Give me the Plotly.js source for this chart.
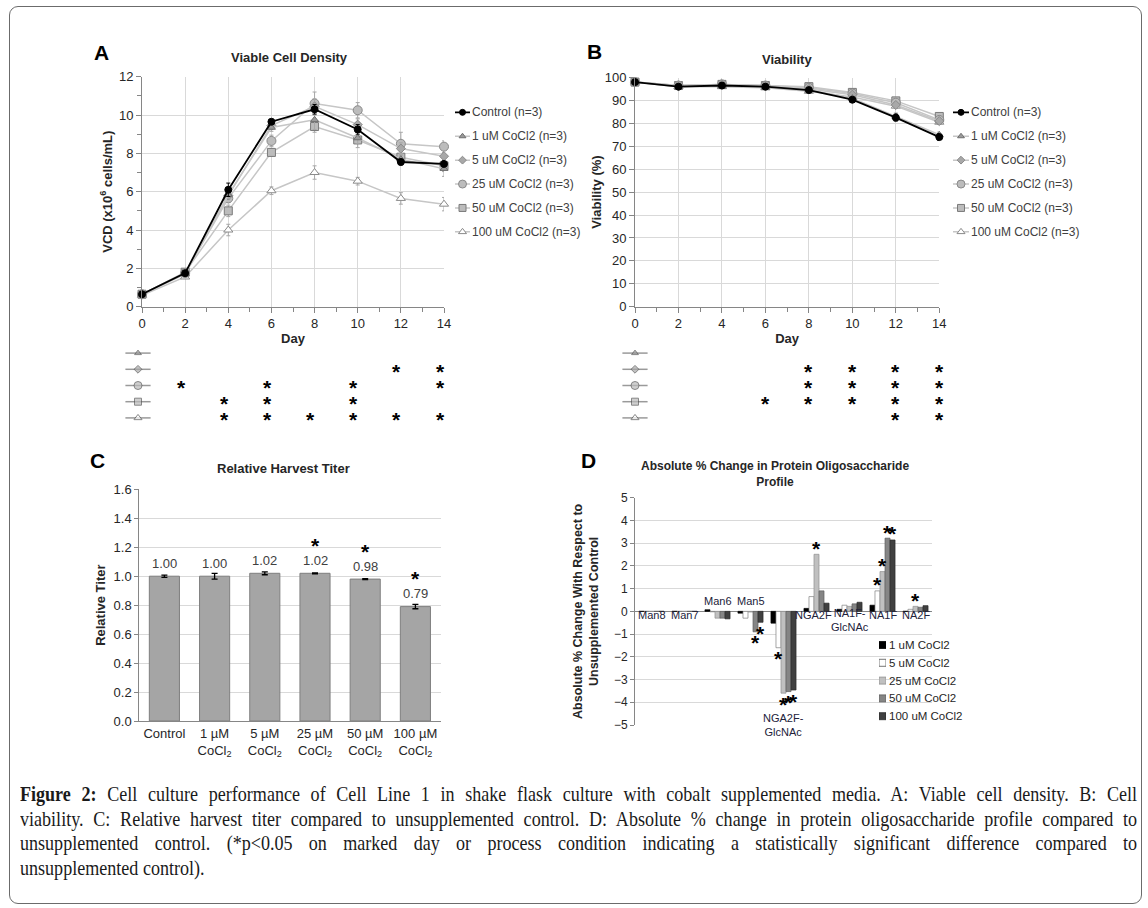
<!DOCTYPE html>
<html><head><meta charset="utf-8">
<script src="https://cdn.plot.ly/plotly-3.0.1.min.js"></script>
<style>
html,body{margin:0;padding:0;background:#fff;}
#wrap{position:relative;width:1148px;height:908px;overflow:hidden;}
#chart{position:absolute;left:0;top:0;width:1148px;height:908px;}
#frame{position:absolute;left:9px;top:6px;width:1133px;height:898px;border:1px solid #6b6b6b;border-radius:9px;box-sizing:border-box;pointer-events:none;}
#caption{position:absolute;left:20px;top:782px;width:1299px;transform:scaleX(0.86);transform-origin:0 0;font-family:"Liberation Serif","Times New Roman",serif;font-size:21px;line-height:24.6px;color:#1a1a1a;}
#caption .j{text-align:justify;text-align-last:justify;white-space:nowrap;}
#caption .l{text-align:left;white-space:nowrap;}
</style>
</head><body>
<div id="wrap">
<div id="chart"></div>
<div id="caption">
<div class="j"><b>Figure 2:</b> Cell culture performance of Cell Line 1 in shake flask culture with cobalt supplemented media. A: Viable cell density. B: Cell</div>
<div class="j">viability. C: Relative harvest titer compared to unsupplemented control. D: Absolute % change in protein oligosaccharide profile compared to</div>
<div class="j">unsupplemented control. (*p&lt;0.05 on marked day or process condition indicating a statistically significant difference compared to</div>
<div class="l">unsupplemented control).</div>
</div>
<div id="frame"></div>
</div>
<script>
// ---------------- DATA ----------------
const days = [0, 2, 4, 6, 8, 10, 12, 14];
const seriesNames = ['Control (n=3)', '1 uM CoCl2 (n=3)', '5 uM CoCl2 (n=3)', '25 uM CoCl2 (n=3)', '50 uM CoCl2 (n=3)', '100 uM CoCl2 (n=3)'];

// Viable cell density (x10^6 cells/mL)
const vcdControl = [0.65, 1.75, 6.10, 9.65, 10.30, 9.25, 7.55, 7.45];
const vcd1uM     = [0.65, 1.70, 5.85, 9.35, 9.75, 8.80, 7.70, 7.20];
const vcd5uM     = [0.65, 1.75, 5.80, 9.45, 10.45, 9.50, 8.25, 7.85];
const vcd25uM    = [0.65, 1.75, 5.65, 8.65, 10.60, 10.25, 8.50, 8.35];
const vcd50uM    = [0.65, 1.80, 5.00, 8.05, 9.40, 8.70, 7.80, 7.35];
const vcd100uM   = [0.60, 1.55, 4.00, 6.05, 7.00, 6.55, 5.65, 5.35];
const vcdErrControl = [0.05, 0.08, 0.35, 0.10, 0.25, 0.25, 0.15, 0.15];
const vcdErr1uM     = [0.05, 0.08, 0.20, 0.20, 0.50, 0.30, 0.30, 0.40];
const vcdErr5uM     = [0.05, 0.08, 0.20, 0.20, 0.40, 0.30, 0.30, 0.30];
const vcdErr25uM    = [0.05, 0.08, 0.20, 0.30, 0.60, 0.40, 0.60, 0.30];
const vcdErr50uM    = [0.05, 0.08, 0.30, 0.20, 0.30, 0.40, 0.30, 0.30];
const vcdErr100uM   = [0.05, 0.08, 0.30, 0.20, 0.35, 0.20, 0.30, 0.35];

// Viability (%)
const viaControl = [98, 96.0, 96.5, 96.0, 94.5, 90.3, 82.5, 74.0];
const via1uM     = [98, 96.0, 96.5, 96.0, 94.5, 91.0, 83.0, 75.0];
const via5uM     = [98, 96.5, 97.0, 96.5, 95.0, 92.5, 88.0, 81.0];
const via25uM    = [98, 96.5, 97.0, 96.5, 95.5, 93.0, 89.0, 81.5];
const via50uM    = [98, 96.5, 97.0, 96.5, 96.0, 93.5, 89.8, 83.0];
const via100uM   = [98, 96.0, 96.0, 95.5, 94.0, 91.5, 87.5, 80.5];
const viaErrControl = [0.3, 0.5, 0.5, 0.5, 0.5, 0.8, 1.5, 1.5];
const viaErr1uM     = [0.3, 0.5, 0.5, 0.5, 0.5, 0.8, 1.5, 1.2];
const viaErr5uM     = [0.3, 0.5, 0.5, 0.5, 0.5, 0.8, 1.0, 1.0];
const viaErr25uM    = [0.3, 0.5, 0.5, 0.5, 0.5, 0.8, 1.0, 1.0];
const viaErr50uM    = [0.3, 0.5, 0.5, 0.5, 0.5, 0.8, 1.0, 1.0];
const viaErr100uM   = [0.3, 0.5, 0.5, 0.5, 0.5, 0.8, 1.0, 1.0];

// significant days (p<0.05) vs control, rows = 1, 5, 25, 50, 100 uM
const sigVcd1uM = [], sigVcd5uM = [12, 14], sigVcd25uM = [2, 6, 10, 14], sigVcd50uM = [4, 6, 10], sigVcd100uM = [4, 6, 8, 10, 12, 14];
const sigVia1uM = [], sigVia5uM = [8, 10, 12, 14], sigVia25uM = [8, 10, 12, 14], sigVia50uM = [6, 8, 10, 12, 14], sigVia100uM = [12, 14];

// Relative harvest titer
const titerCats = ['Control', '1 µM<br>CoCl<sub>2</sub>', '5 µM<br>CoCl<sub>2</sub>', '25 µM<br>CoCl<sub>2</sub>', '50 µM<br>CoCl<sub>2</sub>', '100 µM<br>CoCl<sub>2</sub>'];
const titerValues = [1.00, 1.00, 1.02, 1.02, 0.98, 0.79];
const titerErr = [0.008, 0.02, 0.01, 0.003, 0.003, 0.015];
const titerSig = [false, false, false, true, true, true];

// Oligosaccharide profile: absolute % change vs control
const glycanCats = ['Man8', 'Man7', 'Man6', 'Man5', 'NGA2F-<br>GlcNAc', 'NGA2F', 'NA1F-<br>GlcNAc', 'NA1F', 'NA2F'];
const glycanNames = ['1 uM CoCl2', '5 uM CoCl2', '25 uM CoCl2', '50 uM CoCl2', '100 uM CoCl2'];
const gly1uM   = [0, 0, 0.07, -0.08, -0.52, 0.13, 0.09, 0.27, 0.00];
const gly5uM   = [0, 0, -0.02, -0.30, -1.60, 0.65, 0.27, 0.90, 0.09];
const gly25uM  = [0, 0, -0.30, -0.03, -3.60, 2.51, 0.22, 1.75, 0.22];
const gly50uM  = [0, 0, -0.30, -0.90, -3.53, 0.90, 0.33, 3.22, 0.18];
const gly100uM = [0, 0, -0.33, -0.48, -3.46, 0.36, 0.40, 3.14, 0.25];
// significant categories (index into glycanCats)
const sigGly1uM = [], sigGly5uM = [4, 7], sigGly25uM = [4, 5, 7, 8], sigGly50uM = [3, 4, 7], sigGly100uM = [3, 4, 7];

// ---------------- STYLE / LAYOUT HELPERS ----------------
const F = 'Arial, "Liberation Sans", Helvetica, sans-serif';
const W = 1148, H = 908;
const px = v => v / W;
const py = v => 1 - v / H;
const domX = (a, b) => [px(a), px(b)];
const domY = (top, bottom) => [py(bottom), py(top)];
const AX = '#868686', GRID = '#d9d9d9', TXT = '#262626';

const vcd = [vcdControl, vcd1uM, vcd5uM, vcd25uM, vcd50uM, vcd100uM];
const vcdErr = [vcdErrControl, vcdErr1uM, vcdErr5uM, vcdErr25uM, vcdErr50uM, vcdErr100uM];
const via = [viaControl, via1uM, via5uM, via25uM, via50uM, via100uM];
const viaErr = [viaErrControl, viaErr1uM, viaErr5uM, viaErr25uM, viaErr50uM, viaErr100uM];
const sigVcd = [sigVcd1uM, sigVcd5uM, sigVcd25uM, sigVcd50uM, sigVcd100uM];
const sigVia = [sigVia1uM, sigVia5uM, sigVia25uM, sigVia50uM, sigVia100uM];
const gly = [gly1uM, gly5uM, gly25uM, gly50uM, gly100uM];
const sigGly = [sigGly1uM, sigGly5uM, sigGly25uM, sigGly50uM, sigGly100uM];

const sty = [
  {line: '#000000', symbol: 'circle', size: 7, fill: '#000000', edge: '#000000', err: '#000000'},
  {line: '#c6c6c6', symbol: 'triangle-up', size: 7, fill: '#9a9a9a', edge: '#6f6f6f', err: '#a8a8a8'},
  {line: '#c6c6c6', symbol: 'diamond', size: 7, fill: '#a8a8a8', edge: '#8a8a8a', err: '#a8a8a8'},
  {line: '#c6c6c6', symbol: 'circle', size: 9, fill: '#bcbcbc', edge: '#8a8a8a', err: '#a8a8a8'},
  {line: '#c6c6c6', symbol: 'square', size: 8, fill: '#bcbcbc', edge: '#7a7a7a', err: '#a8a8a8'},
  {line: '#c6c6c6', symbol: 'triangle-up', size: 8, fill: '#ffffff', edge: '#8a8a8a', err: '#a8a8a8'}
];
const barSty = [
  {fill: '#000000', edge: '#000000'},
  {fill: '#ffffff', edge: '#7f7f7f'},
  {fill: '#c0c0c0', edge: '#8f8f8f'},
  {fill: '#858585', edge: '#5f5f5f'},
  {fill: '#404040', edge: '#2a2a2a'}
];

const traces = [];
const annotations = [];
function ann(o) {
  const base = {showarrow: false, xanchor: 'center', yanchor: 'middle', font: {family: F, size: 12, color: TXT}};
  annotations.push(Object.assign(base, o));
}
function star(xref, yref, x, y, yshift) {
  ann({xref, yref, x, y, text: '<b>*</b>', xanchor: 'center', yanchor: 'middle',
       yshift: yshift - 2, font: {family: F, size: 21, color: '#000'}});
}

// ---- Panels A & B line charts ----
function lineTraces(data, err, xa, ya) {
  for (let i = data.length - 1; i >= 0; i--) {
    const s = sty[i];
    traces.push({
      type: 'scatter', mode: 'lines+markers', name: seriesNames[i], showlegend: false,
      x: days, y: data[i], xaxis: xa, yaxis: ya, cliponaxis: false,
      line: {color: s.line, width: i === 0 ? 1.8 : 1.5},
      marker: {symbol: s.symbol, size: s.size, color: s.fill, line: {color: s.edge, width: 1}},
      error_y: {type: 'data', array: err[i], color: s.err, thickness: 1, width: 2}
    });
  }
}
lineTraces(vcd, vcdErr, 'x', 'y');
lineTraces(via, viaErr, 'x2', 'y2');

// ---- manual legends for A & B ----
function lineLegend(xa, ya) {
  seriesNames.forEach((nm, i) => {
    const s = sty[i];
    traces.push({type: 'scatter', mode: 'markers', x: [0.5], y: [i], xaxis: xa, yaxis: ya, showlegend: false, hoverinfo: 'skip',
      marker: {symbol: 'line-ew-open', size: 16, color: s.line, line: {color: s.line, width: i === 0 ? 1.8 : 1.5}}});
    traces.push({type: 'scatter', mode: 'markers', x: [0.5], y: [i], xaxis: xa, yaxis: ya, showlegend: false, hoverinfo: 'skip',
      marker: {symbol: s.symbol, size: s.size - 1, color: s.fill, line: {color: s.edge, width: 1}}});
    ann({xref: xa, yref: ya, x: 1, y: i, text: nm, xanchor: 'left', yanchor: 'middle', xshift: 0,
         font: {family: F, size: 12, color: '#404040'}});
  });
}
lineLegend('x7', 'y7');
lineLegend('x8', 'y8');

// ---- significance rows under A & B ----
function sigRows(sig, xa, ya) {
  const rows = sig.map((_, k) => k + 1);
  traces.push({type: 'scatter', mode: 'markers', x: rows.map(() => 0), y: rows, xaxis: xa, yaxis: ya, showlegend: false,
    cliponaxis: false, hoverinfo: 'skip', marker: {symbol: 'line-ew-open', size: 18, color: '#9a9a9a', line: {color: '#9a9a9a', width: 1.5}}});
  traces.push({type: 'scatter', mode: 'markers', x: rows.map(() => 0), y: rows, xaxis: xa, yaxis: ya, showlegend: false,
    cliponaxis: false, hoverinfo: 'skip',
    marker: {symbol: rows.map(k => sty[k].symbol), size: rows.map(k => sty[k].size - 1),
             color: rows.map(k => sty[k].fill), line: {color: '#555555', width: 1}}});
  sig.forEach((list, k) => list.forEach(d => star(xa, ya, d, k + 1, 0)));
}
sigRows(sigVcd, 'x5', 'y5');
sigRows(sigVia, 'x6', 'y6');

// ---- Panel C bars ----
traces.push({type: 'bar', x: titerCats, y: titerValues, xaxis: 'x3', yaxis: 'y3', width: 0.6, showlegend: false,
  marker: {color: '#a5a5a5', line: {color: '#7f7f7f', width: 1}},
  error_y: {type: 'data', array: titerErr, color: '#000', thickness: 1.3, width: 3}});
titerValues.forEach((v, i) => {
  ann({xref: 'x3', yref: 'y3', x: titerCats[i], y: v, text: v.toFixed(2), yanchor: 'middle', yshift: 13,
       font: {family: F, size: 13, color: '#404040'}});
  if (titerSig[i]) star('x3', 'y3', titerCats[i], v, 30);
});

// ---- Panel D grouped bars ----
const glyX = glycanCats.map((_, i) => i);
const BARGAP = 0.24;
const barW = (1 - BARGAP) / gly.length;
gly.forEach((vals, j) => {
  traces.push({type: 'bar', name: glycanNames[j], x: glyX, y: vals, xaxis: 'x4', yaxis: 'y4', showlegend: false,
    marker: {color: barSty[j].fill, line: {color: barSty[j].edge, width: 0.7}}});
  sigGly[j].forEach(ci => {
    const v = vals[ci];
    star('x4', 'y4', ci + (j - (gly.length - 1) / 2) * barW, v, v >= 0 ? 8 : -9);
  });
});
// category labels for D (Excel-style placement)
const dLabelY = [-0.17, -0.17, 0.45, 0.45, -4.98, -0.17, -0.38, -0.17, -0.17];
const dLabelDx = [0, 0, 0, 0, 0, -3, 0, 0, 0];
glycanCats.forEach((c, i) => ann({xref: 'x4', yref: 'y4', x: i, y: dLabelY[i], text: c, xshift: dLabelDx[i],
  font: {family: F, size: 11, color: '#22223a'}}));
// D legend
glycanNames.forEach((nm, j) => {
  traces.push({type: 'scatter', mode: 'markers', x: [0.5], y: [j], xaxis: 'x9', yaxis: 'y9', showlegend: false, hoverinfo: 'skip',
    marker: {symbol: 'square', size: 7, color: barSty[j].fill, line: {color: j === 1 ? '#555' : barSty[j].edge, width: 0.8}}});
  ann({xref: 'x9', yref: 'y9', x: 1, y: j, text: nm, xanchor: 'left', yanchor: 'middle', xshift: 1,
       font: {family: F, size: 11.5, color: '#262626'}});
});

// ---- titles and panel letters ----
const bold = (t) => '<b>' + t + '</b>';
ann({xref: 'paper', yref: 'paper', x: px(101), y: py(52), text: bold('A'), font: {family: F, size: 21, color: '#000'}});
ann({xref: 'paper', yref: 'paper', x: px(594), y: py(51), text: bold('B'), font: {family: F, size: 21, color: '#000'}});
ann({xref: 'paper', yref: 'paper', x: px(97), y: py(460), text: bold('C'), font: {family: F, size: 21, color: '#000'}});
ann({xref: 'paper', yref: 'paper', x: px(588), y: py(460), text: bold('D'), font: {family: F, size: 21, color: '#000'}});
ann({xref: 'paper', yref: 'paper', x: px(289), y: py(58), text: bold('Viable Cell Density'), font: {family: F, size: 13, color: '#262626'}});
ann({xref: 'paper', yref: 'paper', x: px(787), y: py(60), text: bold('Viability'), font: {family: F, size: 13, color: '#262626'}});
ann({xref: 'paper', yref: 'paper', x: px(283), y: py(468), text: bold('Relative Harvest Titer'), font: {family: F, size: 13, color: '#262626'}});
ann({xref: 'paper', yref: 'paper', x: px(775), y: py(474), text: bold('Absolute % Change in Protein Oligosaccharide<br>Profile'), font: {family: F, size: 12, color: '#262626'}});

// ---------------- AXES ----------------
const tf = (s) => ({family: F, size: s, color: TXT});
function dayAxis(domain, anchor) {
  return {domain, anchor, range: [0, 14], tick0: 0, dtick: 2, ticks: 'outside', ticklen: 5, tickcolor: AX,
    showline: true, linecolor: AX, linewidth: 1, showgrid: true, gridcolor: GRID, zeroline: false,
    minor: {dtick: 1, ticks: 'outside', ticklen: 4, tickcolor: AX, showgrid: false},
    tickfont: tf(13), title: {text: bold('Day'), font: tf(13), standoff: 3}, fixedrange: true};
}
const hidden = (domain, anchor, range) => ({domain, anchor, range, visible: false, fixedrange: true});
const rowsDom = domY(345, 426);

const layout = {
  width: W, height: H, margin: {l: 0, r: 0, t: 0, b: 0}, paper_bgcolor: '#fff', plot_bgcolor: 'rgba(0,0,0,0)',
  showlegend: false, barmode: 'group', bargap: BARGAP, bargroupgap: 0,
  font: {family: F, color: TXT},
  xaxis: dayAxis(domX(142, 444), 'y'),
  yaxis: {domain: domY(76.7, 306.7), anchor: 'x', range: [0, 12], dtick: 2, ticks: 'outside', ticklen: 5, tickcolor: AX,
    showline: true, linecolor: AX, gridcolor: GRID, zeroline: false,
    minor: {dtick: 1, ticks: 'outside', ticklen: 4, tickcolor: AX, showgrid: false},
    tickfont: tf(13), title: {text: bold('VCD (x10<sup>6</sup> cells/mL)'), font: tf(13), standoff: 3}, fixedrange: true},
  xaxis2: dayAxis(domX(635, 939.3), 'y2'),
  yaxis2: {domain: domY(77.5, 306.7), anchor: 'x2', range: [0, 100], dtick: 10, ticks: 'outside', ticklen: 5, tickcolor: AX,
    showline: true, linecolor: AX, gridcolor: GRID, zeroline: false,
    tickfont: tf(13), title: {text: bold('Viability (%)'), font: tf(13), standoff: 0}, fixedrange: true},
  xaxis3: {domain: domX(139.3, 440.5), anchor: 'y3', type: 'category', showline: true, linecolor: AX, ticks: '',
    showgrid: false, tickfont: tf(13), fixedrange: true},
  yaxis3: {domain: domY(489.3, 721), anchor: 'x3', range: [0, 1.6], dtick: 0.2, tickformat: '.1f', ticks: 'outside', ticklen: 4,
    tickcolor: AX, showline: true, linecolor: AX, gridcolor: GRID, zeroline: false,
    tickfont: tf(13), title: {text: bold('Relative Titer'), font: tf(13), standoff: 5}, fixedrange: true},
  xaxis4: {domain: domX(635, 932), anchor: 'y4', range: [-0.5, 8.5], showticklabels: false, showgrid: false, zeroline: false,
    showline: false, ticks: '', fixedrange: true},
  yaxis4: {domain: domY(497.7, 725), anchor: 'x4', range: [-5, 5], dtick: 1, ticks: 'outside', ticklen: 4, tickcolor: AX,
    showline: true, linecolor: AX, gridcolor: GRID, zeroline: true, zerolinecolor: AX, zerolinewidth: 1,
    tickfont: tf(12), title: {text: bold('Absolute % Change With Respect to<br>Unsupplemented Control'), font: tf(12.5), standoff: 12},
    fixedrange: true},
  xaxis5: hidden(domX(138, 440), 'y5', [0, 14]),
  yaxis5: hidden(rowsDom, 'x5', [5.5, 0.5]),
  xaxis6: hidden(domX(635, 939.3), 'y6', [0, 14]),
  yaxis6: hidden(rowsDom, 'x6', [5.5, 0.5]),
  xaxis7: hidden(domX(455, 470), 'y7', [0, 1]),
  yaxis7: hidden(domY(100.4, 243.8), 'x7', [5.5, -0.5]),
  xaxis8: hidden(domX(953, 969), 'y8', [0, 1]),
  yaxis8: hidden(domY(100.4, 243.8), 'x8', [5.5, -0.5]),
  xaxis9: hidden(domX(879, 886), 'y9', [0, 1]),
  yaxis9: hidden(domY(636.1, 725.1), 'x9', [4.5, -0.5]),
  annotations
};

Plotly.newPlot('chart', traces, layout, {staticPlot: true, displayModeBar: false});
</script>
</body></html>
